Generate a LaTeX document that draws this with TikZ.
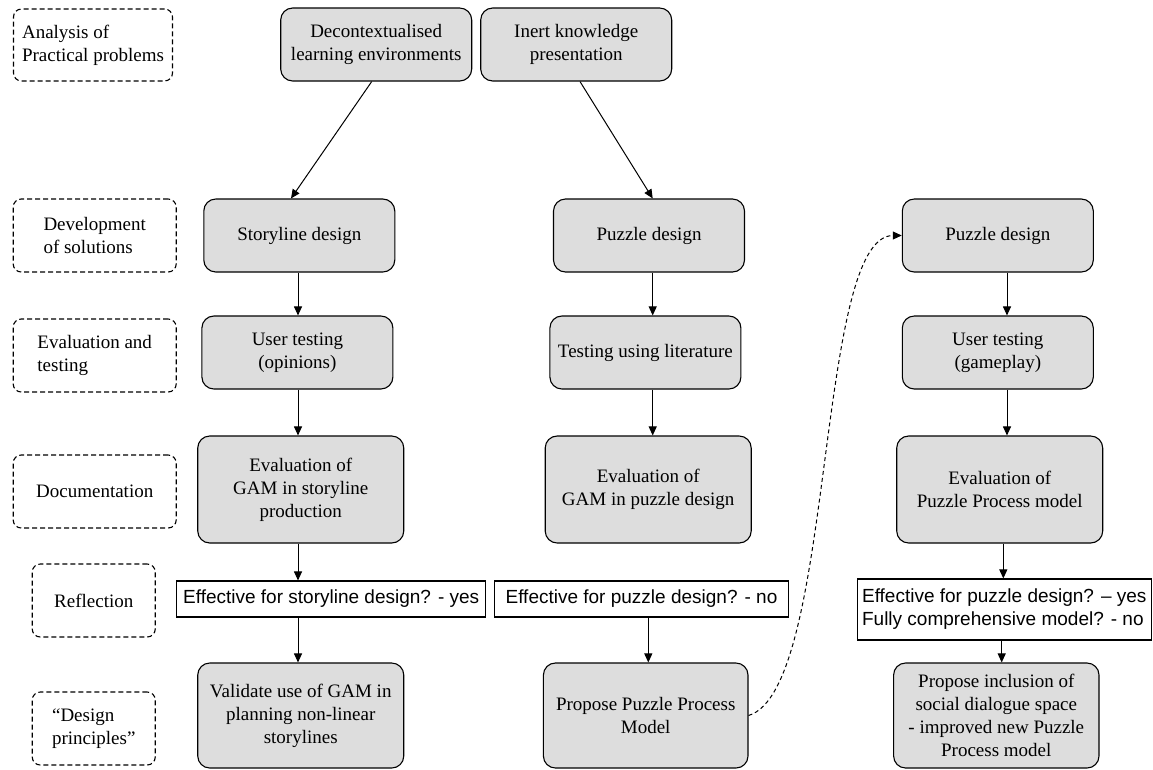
\documentclass[tikz,border=0pt]{standalone}
\usepackage{fontspec}
\setmainfont{Liberation Serif}
\newfontfamily\sansf[Ligatures=TeX]{Liberation Sans}
\usetikzlibrary{arrows.meta}
\definecolor{boxgray}{HTML}{DDDDDD}
\tikzset{
  sz/.style 2 args={minimum width=#1pt, minimum height=#2pt},
  phase/.style={draw, dash pattern=on 5pt off 3pt, rounded corners=8pt, line width=1.1pt,
    align=left, font=\fontsize{19}{23}\selectfont, inner sep=2pt},
  gbox/.style={draw, fill=boxgray, rounded corners=12pt, line width=1.1pt,
    align=center, font=\fontsize{19}{23}\selectfont, inner sep=2pt},
  rbox/.style={draw, fill=white, line width=1.1pt, align=left,
    font=\sansf\fontsize{19}{23}\selectfont, inner sep=3pt},
  arr/.style={-{Triangle[length=9pt,width=8pt]}, line width=1pt},
  darr/.style={-{Triangle[length=9pt,width=8pt]}, line width=1pt, dash pattern=on 4pt off 3pt}
}
\begin{document}
\begin{tikzpicture}[x=1pt,y=-1pt]
\useasboundingbox (0,0) rectangle (1153,769);
% phase labels
\node[phase, sz={159}{72}] (l1) at (93,45) {Analysis of\\Practical problems};
\node[phase, sz={163}{73}] (l2) at (94.7,235.5) {Development\\of solutions};
\node[phase, sz={163}{73}] (l3) at (94.7,355.5) {Evaluation and\\testing};
\node[phase, sz={163}{73}] (l4) at (94.7,491.5) {Documentation};
\node[phase, sz={123}{73}] (l5) at (93.75,600.5) {Reflection};
\node[phase, sz={123}{73}] (l6) at (93.75,728.5) {“Design\\principles”};
% row 1
\node[gbox, sz={191}{73}] (a1) at (376.2,44.5) {Decontextualised\\learning environments};
\node[gbox, sz={191}{73}] (a2) at (576.2,44.5) {Inert knowledge\\presentation};
% row 2
\node[gbox, sz={191}{73}] (b1) at (299.3,235.5) {Storyline design};
\node[gbox, sz={191}{73}] (b2) at (649,235.5) {Puzzle design};
\node[gbox, sz={191}{73}] (b3) at (997.8,235.5) {Puzzle design};
% row 3
\node[gbox, sz={191}{73}] (c1) at (297.4,352.5) {User testing\\(opinions)};
\node[gbox, sz={191}{73}] (c2) at (645.4,352.5) {Testing using literature};
\node[gbox, sz={191}{73}] (c3) at (997.8,352.5) {User testing\\(gameplay)};
% row 4
\node[gbox, sz={206}{107}] (d1) at (300.75,489.5) {Evaluation of\\GAM in storyline\\production};
\node[gbox, sz={206}{107}] (d2) at (648.2,489.5) {Evaluation of\\GAM in puzzle design};
\node[gbox, sz={206}{107}] (d3) at (999.7,489.5) {Evaluation of\\Puzzle Process model};
% row 5
\node[rbox, sz={309}{36}] (e1) at (331.2,599) {Effective for storyline design? - yes};
\node[rbox, sz={294.5}{36}] (e2) at (641.5,599) {Effective for puzzle design? - no};
\node[rbox, sz={294.5}{61}] (e3) at (1004.3,609.5) {Effective for puzzle design? – yes\\Fully comprehensive model? - no};
% row 6
\node[gbox, sz={206}{105}] (f1) at (300.75,715.5) {Validate use of GAM in\\planning non-linear\\storylines};
\node[gbox, sz={204.6}{105}] (f2) at (645.7,715.5) {Propose Puzzle Process\\Model};
\node[gbox, sz={205.4}{105}] (f3) at (996.3,715.5) {Propose inclusion of\\social dialogue space\\- improved new Puzzle\\Process model};
% arrow columns
\coordinate (x1) at (298,0);
\coordinate (x1t) at (291,0);
\coordinate (x2) at (652.7,0);
\coordinate (x2b) at (648.3,0);
\coordinate (x3) at (1007,0);
\coordinate (x3b) at (1003.3,0);
\coordinate (x3c) at (1001.7,0);
\coordinate (xa1) at (371.7,0);
\coordinate (xa2) at (580,0);
% connectors
\draw[arr] (a1.south -| xa1) -- (b1.north -| x1t);
\draw[arr] (a2.south -| xa2) -- (b2.north -| x2);
\draw[arr] (b1.south -| x1) -- (c1.north -| x1);
\draw[arr] (c1.south -| x1) -- (d1.north -| x1);
\draw[arr] (d1.south -| x1) -- (e1.north -| x1);
\draw[arr] (e1.south -| x1) -- (f1.north -| x1);
\draw[arr] (b2.south -| x2) -- (c2.north -| x2);
\draw[arr] (c2.south -| x2) -- (d2.north -| x2);
\draw[arr] (e2.south -| x2b) -- (f2.north -| x2b);
\draw[arr] (b3.south -| x3) -- (c3.north -| x3);
\draw[arr] (c3.south -| x3) -- (d3.north -| x3);
\draw[arr] (d3.south -| x3b) -- (e3.north -| x3b);
\draw[arr] (e3.south -| x3c) -- (f3.north -| x3c);
\draw[darr] (f2.east) .. controls +(87,-26) and +(-87,0) .. (b3.west);
\end{tikzpicture}
\end{document}
